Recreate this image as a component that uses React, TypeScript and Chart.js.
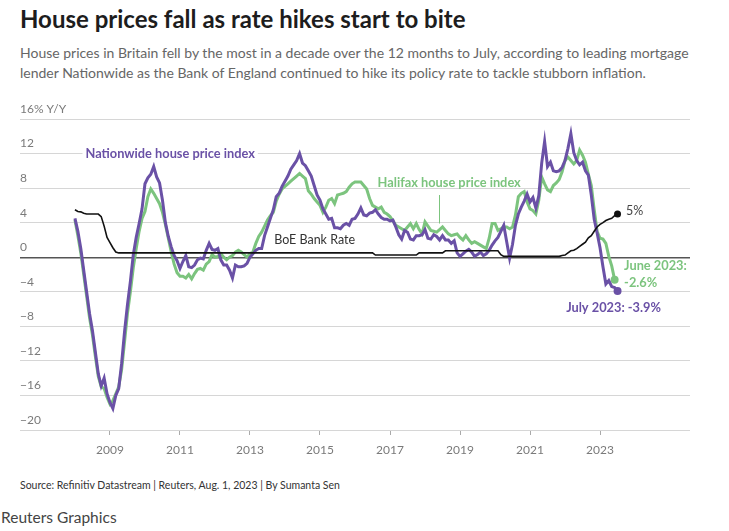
import React, { useEffect, useRef } from 'react';
import { Chart, registerables } from 'chart.js';

Chart.register(...registerables);

const START_YEAR = 2008;

// Nationwide house price index, % Y/Y, monthly Jan 2008 - Jul 2023
const nationwide = [
  4.5, 3.0, 1.0, -1.5, -4.0, -6.5, -8.5, -11.0, -13.5, -14.9, -14.0, -15.8,
  -16.8, -17.5, -16.0, -15.2, -12.3, -8.6, -5.5, -2.8, 0.3, 2.3, 3.9, 5.6,
  8.5, 9.2, 9.6, 10.5, 9.3, 8.6, 6.6, 4.0, 2.4, 1.2, 0.2, -0.4,
  -1.3, -0.5, 0.2, -1.1, -1.2, -0.9, -0.3, -0.1, -0.2, 0.8, 1.6, 0.9,
  0.8, 1.0, -0.3, -0.9, -0.9, -1.5, -2.4, -0.9, -1.1, -1.1, -1.0, -0.7,
  0.0, 0.4, 0.8, 1.0, 1.0, 2.5, 3.5, 4.5, 5.5, 7.0, 7.4, 8.2,
  8.8, 9.4, 10.2, 10.7, 11.2, 12.0, 10.9, 10.6, 10.0, 9.4, 8.3, 7.2,
  6.6, 5.6, 5.0, 4.4, 4.5, 3.4, 3.4, 3.3, 3.7, 3.9, 3.7, 4.4,
  4.5, 5.0, 5.7, 4.9, 4.8, 5.1, 5.2, 5.5, 5.0, 4.6, 4.4, 4.4,
  4.2, 4.3, 3.5, 2.6, 2.1, 3.1, 2.9, 2.1, 2.0, 2.5, 2.5, 2.6,
  3.2, 2.2, 2.1, 2.6, 2.4, 2.0, 2.5, 2.0, 2.0, 1.6, 1.9, 0.5,
  0.1, 0.4, 0.7, 0.9, 0.6, 0.1, 0.3, 0.6, 0.2, 0.4, 0.8, 1.4,
  1.9, 2.3, 3.0, 3.7, 1.8, -0.1, 1.5, 3.7, 5.0, 5.8, 6.5, 7.3,
  6.4, 6.9, 5.7, 7.1, 10.9, 13.4, 10.5, 11.0, 10.0, 9.9, 10.0, 10.4,
  11.2, 12.6, 14.3, 12.1, 11.2, 10.7, 11.0, 10.0, 9.5, 7.2, 4.4, 2.8,
  1.1, -1.1, -3.1, -2.7, -3.4, -3.5, -3.9,
];

// Halifax house price index, % Y/Y, monthly Jan 2008 - Jun 2023
const halifax = [
  4.3, 2.5, 0.5, -2.0, -4.5, -7.0, -9.0, -11.5, -13.8, -15.0, -15.2, -16.2,
  -17.0, -16.6, -15.8, -15.0, -13.0, -9.8, -6.5, -4.0, -1.2, 1.0, 3.0, 4.5,
  5.3, 7.0, 7.9, 7.4, 6.8, 6.2, 5.2, 3.8, 2.2, 0.6, -0.8, -1.8,
  -2.2, -2.2, -2.4, -2.0, -2.5, -1.9, -1.4, -1.3, -1.5, -0.8, -0.5, 0.3,
  0.0, 0.1, 0.4, 0.0, -0.3, 0.0, 0.2, 0.6, 0.8, 0.6, 0.3, 0.0,
  0.4, 0.6, 1.6, 2.4, 2.9, 3.6, 4.3, 4.8, 5.2, 6.5, 7.3, 7.9,
  8.2, 8.5, 8.8, 9.1, 9.4, 9.7, 9.4, 9.1, 7.7, 7.3, 6.8, 6.4,
  6.0, 5.2, 5.8, 6.6, 6.8, 6.2, 7.2, 7.3, 7.4, 7.6, 8.1, 8.5,
  8.7, 8.7, 8.7, 8.3, 7.9, 6.8, 6.0, 5.8, 5.6, 5.8, 5.2, 5.0,
  4.7, 4.2, 3.7, 3.5, 3.3, 3.1, 3.5, 3.9, 3.3, 3.9, 3.2, 2.7,
  4.1, 3.6, 3.1, 3.0, 2.9, 3.2, 3.5, 3.1, 2.7, 2.5, 2.6, 2.7,
  2.3, 2.0, 2.5, 2.0, 1.6, 1.8, 1.6, 1.4, 1.2, 1.0, 2.2, 3.9,
  3.9, 3.1, 3.3, 3.5, 3.5, 3.3, 3.5, 4.9, 7.0, 7.4, 7.6, 6.4,
  5.6, 5.4, 5.0, 6.6, 9.3, 8.5, 7.8, 7.6, 8.3, 8.6, 9.0, 9.9,
  11.2, 11.6, 11.2, 10.8, 11.2, 12.4, 11.8, 11.0, 9.6, 8.3, 5.5, 3.0,
  2.2, 2.1, 1.6, 0.1, -1.0, -2.6,
];

// Bank of England Bank Rate, %, monthly Jan 2008 - Jul 2023
const boeRate = [
  5.5, 5.3, 5.25, 5.1, 5.0, 5.0, 5.0, 5.0, 5.0, 4.7, 3.6, 2.3,
  1.7, 1.1, 0.6, 0.5, 0.5, 0.5, 0.5, 0.5, 0.5, 0.5, 0.5, 0.5,
  0.5, 0.5, 0.5, 0.5, 0.5, 0.5, 0.5, 0.5, 0.5, 0.5, 0.5, 0.5,
  0.5, 0.5, 0.5, 0.5, 0.5, 0.5, 0.5, 0.5, 0.5, 0.5, 0.5, 0.5,
  0.5, 0.5, 0.5, 0.5, 0.5, 0.5, 0.5, 0.5, 0.5, 0.5, 0.5, 0.5,
  0.5, 0.5, 0.5, 0.5, 0.5, 0.5, 0.5, 0.5, 0.5, 0.5, 0.5, 0.5,
  0.5, 0.5, 0.5, 0.5, 0.5, 0.5, 0.5, 0.5, 0.5, 0.5, 0.5, 0.5,
  0.5, 0.5, 0.5, 0.5, 0.5, 0.5, 0.5, 0.5, 0.5, 0.5, 0.5, 0.5,
  0.5, 0.5, 0.5, 0.5, 0.5, 0.5, 0.5, 0.25, 0.25, 0.25, 0.25, 0.25,
  0.25, 0.25, 0.25, 0.25, 0.25, 0.25, 0.25, 0.25, 0.25, 0.25, 0.5, 0.5,
  0.5, 0.5, 0.5, 0.5, 0.5, 0.5, 0.5, 0.75, 0.75, 0.75, 0.75, 0.75,
  0.75, 0.75, 0.75, 0.75, 0.75, 0.75, 0.75, 0.75, 0.75, 0.75, 0.75, 0.75,
  0.75, 0.75, 0.3, 0.1, 0.1, 0.1, 0.1, 0.1, 0.1, 0.1, 0.1, 0.1,
  0.1, 0.1, 0.1, 0.1, 0.1, 0.1, 0.1, 0.1, 0.1, 0.1, 0.1, 0.2,
  0.25, 0.5, 0.75, 0.8, 1.0, 1.25, 1.5, 1.75, 2.25, 2.5, 3.0, 3.5,
  3.8, 4.0, 4.25, 4.4, 4.5, 4.8, 5.0,
];

const yTickValues = [-20, -16, -12, -8, -4, 0, 4, 8, 12, 16];
const xTickYears = [2009, 2011, 2013, 2015, 2017, 2019, 2021, 2023];

const PURPLE = '#6a51a6';
const GREEN = '#7cc47e';
const BLACK = '#111111';
const FONT = "Lato, 'Open Sans', sans-serif";

const toPoints = (arr: number[]) => arr.map((v, i) => ({ x: START_YEAR + i / 12, y: v }));
const lastRadius = (len: number, r: number) => (ctx: any) => (ctx.dataIndex === len - 1 ? r : 0);

const annotations = {
  id: 'annotations',
  beforeDatasetsDraw(chart: any) {
    const { ctx } = chart;
    const x = chart.scales.x;
    const y = chart.scales.y;
    ctx.save();
    // Nationwide label on the 12 gridline, with white background
    ctx.font = `bold 12.8px ${FONT}`;
    const t1 = 'Nationwide house price index';
    const w1 = ctx.measureText(t1).width;
    const cx1 = x.getPixelForValue(2010.72);
    const cy1 = y.getPixelForValue(12);
    ctx.fillStyle = '#ffffff';
    ctx.fillRect(cx1 - w1 / 2 - 3, cy1 - 8, w1 + 6, 16);
    ctx.fillStyle = PURPLE;
    ctx.textAlign = 'center';
    ctx.textBaseline = 'middle';
    ctx.fillText(t1, cx1, cy1);

    // Halifax label + leader line
    const t2 = 'Halifax house price index';
    ctx.fillStyle = GREEN;
    ctx.fillText(t2, x.getPixelForValue(2018.69), y.getPixelForValue(8.55));
    ctx.strokeStyle = GREEN;
    ctx.lineWidth = 1;
    const lx = Math.round(x.getPixelForValue(2018.4)) + 0.5;
    ctx.beginPath();
    ctx.moveTo(lx, y.getPixelForValue(7.2));
    ctx.lineTo(lx, y.getPixelForValue(3.9));
    ctx.stroke();

    // BoE label
    ctx.font = `12.5px ${FONT}`;
    ctx.fillStyle = '#333333';
    ctx.textAlign = 'left';
    ctx.fillText('BoE Bank Rate', x.getPixelForValue(2013.69), y.getPixelForValue(1.97));
    ctx.restore();
  },
  afterDatasetsDraw(chart: any) {
    const { ctx } = chart;
    ctx.save();
    ctx.textBaseline = 'middle';
    const nw = chart.getDatasetMeta(0).data;
    const hf = chart.getDatasetMeta(1).data;
    const br = chart.getDatasetMeta(2).data;
    const pN = nw[nw.length - 1];
    const pH = hf[hf.length - 1];
    const pB = br[br.length - 1];

    ctx.font = `12.5px ${FONT}`;
    ctx.fillStyle = '#444444';
    ctx.textAlign = 'left';
    ctx.fillText(`${boeRate[boeRate.length - 1]}%`, pB.x + 8.5, pB.y - 3);

    ctx.font = `bold 12.8px ${FONT}`;
    ctx.fillStyle = GREEN;
    ctx.fillText('June 2023:', pH.x + 9.5, pH.y - 13.5);
    ctx.fillText(`${halifax[halifax.length - 1].toFixed(1)}%`, pH.x + 9.5, pH.y + 3.5);

    ctx.fillStyle = PURPLE;
    ctx.textAlign = 'center';
    ctx.fillText(`July 2023: ${nationwide[nationwide.length - 1].toFixed(1)}%`, pN.x - 4, pN.y + 17);
    ctx.restore();
  },
};

function ChartCanvas() {
  const ref = useRef<HTMLCanvasElement | null>(null);
  useEffect(() => {
    if (!ref.current) return;
    const chart = new Chart(ref.current, {
      type: 'line',
      data: {
        datasets: [
          {
            label: 'Nationwide',
            data: toPoints(nationwide),
            borderColor: PURPLE,
            backgroundColor: PURPLE,
            borderWidth: 3,
            pointRadius: lastRadius(nationwide.length, 4),
            pointBorderWidth: 0,
            tension: 0,
            order: 1,
          },
          {
            label: 'Halifax',
            data: toPoints(halifax),
            borderColor: GREEN,
            backgroundColor: GREEN,
            borderWidth: 3,
            pointRadius: lastRadius(halifax.length, 4),
            pointBorderWidth: 0,
            tension: 0,
            order: 2,
          },
          {
            label: 'BoE Bank Rate',
            data: toPoints(boeRate),
            borderColor: BLACK,
            backgroundColor: BLACK,
            borderWidth: 1.6,
            pointRadius: lastRadius(boeRate.length, 3.5),
            pointBorderWidth: 0,
            tension: 0,
            order: 0,
          },
        ],
      },
      options: {
        responsive: false,
        animation: false,
        events: [],
        layout: { padding: { left: 20, right: 39, top: 24, bottom: 0 } },
        plugins: {
          legend: { display: false },
          tooltip: { enabled: false },
          title: { display: false },
        },
        scales: {
          x: {
            type: 'linear',
            min: 2006.43,
            max: 2025.57,
            afterBuildTicks: (axis: any) => {
              axis.ticks = xTickYears.map((v) => ({ value: v }));
            },
            afterFit: (axis: any) => {
              axis.height = 40;
            },
            border: { display: false },
            grid: {
              display: true,
              drawOnChartArea: false,
              drawTicks: true,
              tickLength: 5,
              color: '#aaaaaa',
            },
            ticks: {
              padding: 8,
              color: '#7a7a7a',
              font: { family: FONT, size: 12 },
              maxRotation: 0,
              callback: (v: any) => String(v),
            },
          },
          y: {
            type: 'linear',
            min: -20,
            max: 16,
            afterBuildTicks: (axis: any) => {
              axis.ticks = yTickValues.map((v) => ({ value: v }));
            },
            afterFit: (axis: any) => {
              axis.width = 0;
            },
            border: { display: false },
            grid: {
              drawTicks: false,
              color: (c: any) => (c.tick && c.tick.value === 0 ? '#555555' : '#d6d6d6'),
              lineWidth: (c: any) => (c.tick && c.tick.value === 0 ? 1.4 : 1),
            },
            ticks: {
              mirror: true,
              padding: 0,
              labelOffset: -10,
              color: '#7a7a7a',
              font: { family: FONT, size: 12 },
              callback: (v: any) => {
                const n = Number(v);
                if (n === 16) return '16% Y/Y';
                return n < 0 ? `\u2212${Math.abs(n)}` : String(n);
              },
            },
          },
        },
      },
      plugins: [annotations],
    });
    return () => chart.destroy();
  }, []);
  return (
    <canvas
      ref={ref}
      width={729}
      height={375}
      style={{ position: 'absolute', left: 0, top: 95, width: 729, height: 375 }}
    />
  );
}

export default function App() {
  return (
    <div style={{ fontFamily: FONT }}>
      <div
        style={{
          position: 'absolute',
          left: 20,
          top: 4,
          fontSize: 24,
          lineHeight: '30px',
          fontWeight: 700,
          color: '#1d1d1d',
          whiteSpace: 'nowrap',
        }}
      >
        House prices fall as rate hikes start to bite
      </div>
      <div
        style={{
          position: 'absolute',
          left: 20,
          top: 43,
          fontSize: 14,
          lineHeight: '20px',
          color: '#666666',
          whiteSpace: 'nowrap',
        }}
      >
        House prices in Britain fell by the most in a decade over the 12 months to July, according to leading mortgage
        <br />
        lender Nationwide as the Bank of England continued to hike its policy rate to tackle stubborn inflation.
      </div>
      <ChartCanvas />
      <div
        style={{
          position: 'absolute',
          left: 20,
          top: 478,
          fontSize: 10.5,
          lineHeight: '14px',
          color: '#333333',
          whiteSpace: 'nowrap',
        }}
      >
        Source: Refinitiv Datastream | Reuters, Aug. 1, 2023 | By Sumanta Sen
      </div>
      <div
        style={{
          position: 'absolute',
          left: 1,
          top: 507,
          fontSize: 15.5,
          lineHeight: '20px',
          color: '#444444',
          whiteSpace: 'nowrap',
        }}
      >
        Reuters Graphics
      </div>
    </div>
  );
}
